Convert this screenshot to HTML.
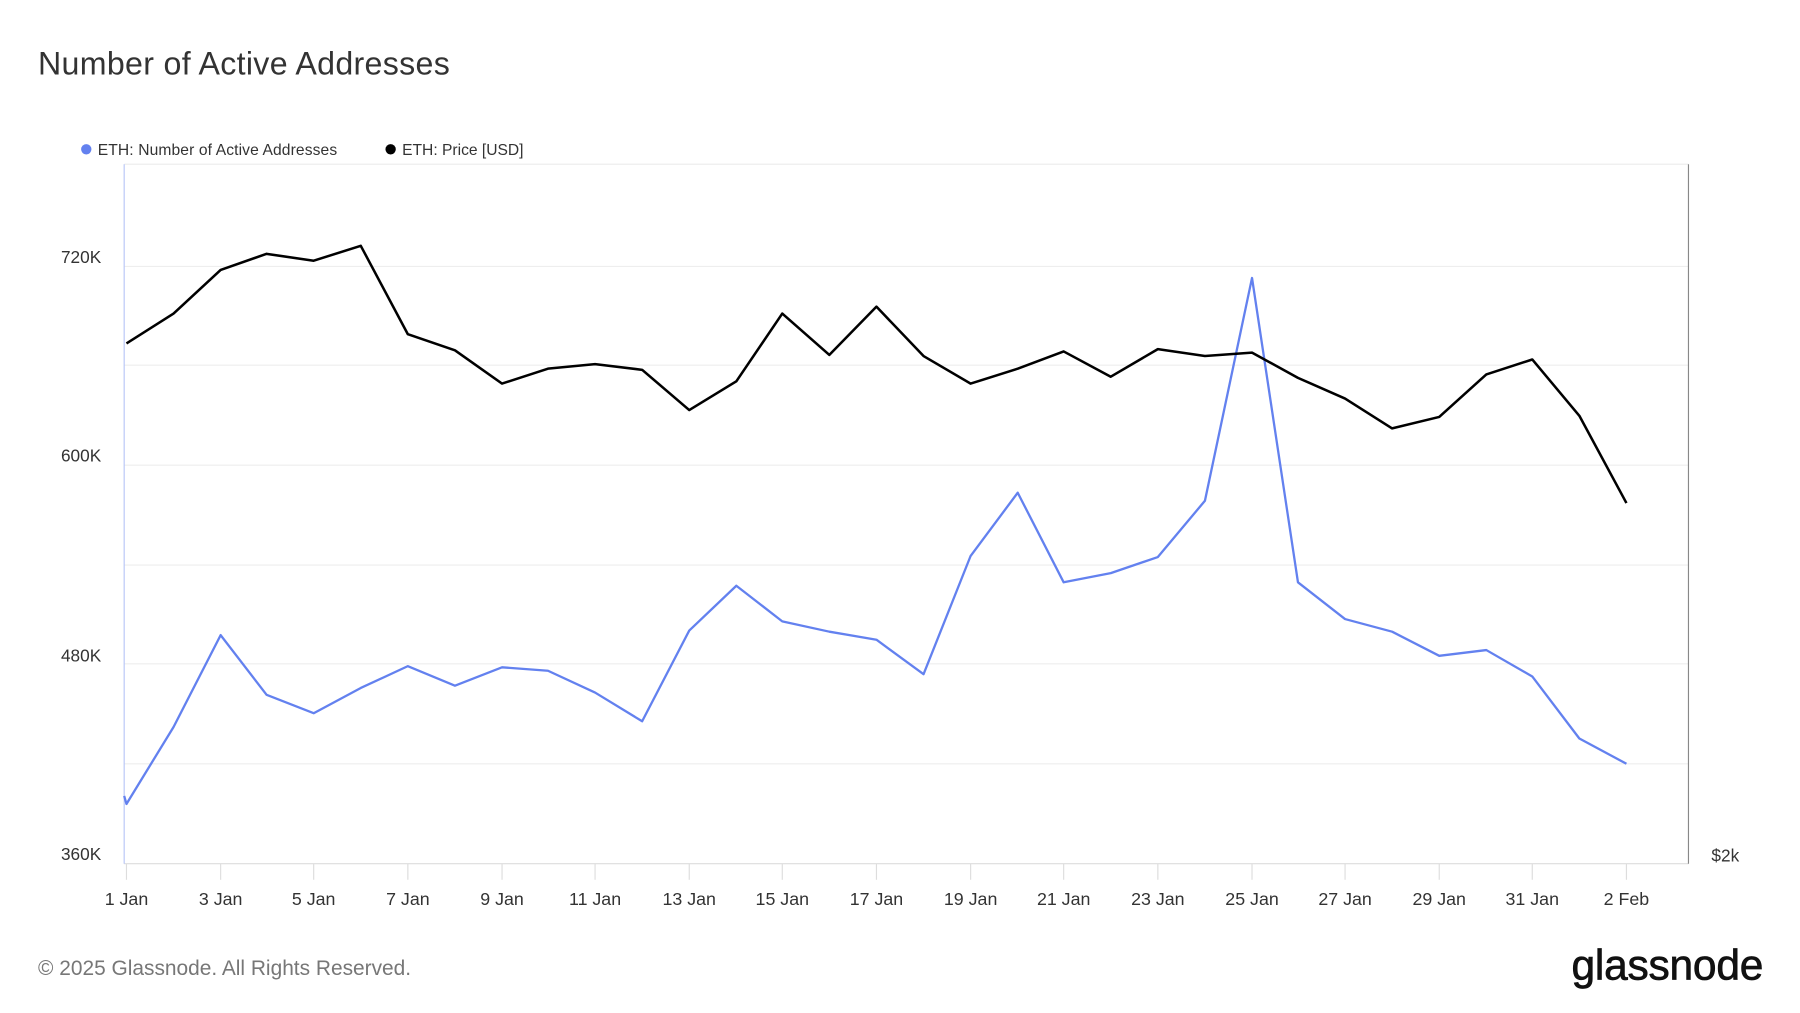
<!DOCTYPE html>
<html><head><style>html,body{margin:0;padding:0;background:#fff;}svg{display:block}</style></head>
<body>
<svg width="1800" height="1013" viewBox="0 0 1567 882" xmlns="http://www.w3.org/2000/svg" font-family="Liberation Sans, sans-serif">
<rect width="1567" height="882" fill="#fff"/>
<text x="33" y="65" font-size="28" fill="#333" letter-spacing="0.28">Number of Active Addresses</text>
<circle cx="75" cy="130" r="4.5" fill="#6381ef"/>
<text x="85" y="135" font-size="13.6" fill="#333" letter-spacing="0.1">ETH: Number of Active Addresses</text>
<circle cx="340" cy="130" r="4.5" fill="#000"/>
<text x="350" y="135" font-size="13.6" fill="#333" letter-spacing="0">ETH: Price [USD]</text>
<g stroke="#eee" stroke-width="1">
<line x1="108" y1="143" x2="1470" y2="143"/>
<line x1="108" y1="232" x2="1470" y2="232"/>
<line x1="108" y1="318" x2="1470" y2="318"/>
<line x1="108" y1="405" x2="1470" y2="405"/>
<line x1="108" y1="492" x2="1470" y2="492"/>
<line x1="108" y1="578" x2="1470" y2="578"/>
<line x1="108" y1="665" x2="1470" y2="665"/>
</g>
<line x1="108" y1="752" x2="1470" y2="752" stroke="#ddd"/>
<line x1="108" y1="143" x2="108" y2="752" stroke="#b8c6f7"/>
<line x1="1470" y1="143" x2="1470" y2="752" stroke="#888"/>
<g font-size="15" fill="#333" text-anchor="end">
<text x="88" y="229">720K</text><text x="88" y="402">600K</text><text x="88" y="576">480K</text><text x="88" y="749">360K</text>
</g>
<text x="1490" y="750" font-size="15" fill="#333">$2k</text>
<g stroke="#ddd">
<line x1="110" y1="752" x2="110" y2="766"/><line x1="192" y1="752" x2="192" y2="766"/><line x1="273" y1="752" x2="273" y2="766"/><line x1="355" y1="752" x2="355" y2="766"/><line x1="437" y1="752" x2="437" y2="766"/><line x1="518" y1="752" x2="518" y2="766"/><line x1="600" y1="752" x2="600" y2="766"/><line x1="681" y1="752" x2="681" y2="766"/><line x1="763" y1="752" x2="763" y2="766"/><line x1="845" y1="752" x2="845" y2="766"/><line x1="926" y1="752" x2="926" y2="766"/><line x1="1008" y1="752" x2="1008" y2="766"/><line x1="1090" y1="752" x2="1090" y2="766"/><line x1="1171" y1="752" x2="1171" y2="766"/><line x1="1253" y1="752" x2="1253" y2="766"/><line x1="1334" y1="752" x2="1334" y2="766"/><line x1="1416" y1="752" x2="1416" y2="766"/>
</g>
<g font-size="15.5" fill="#333" text-anchor="middle">
<text x="110" y="788">1 Jan</text><text x="192" y="788">3 Jan</text><text x="273" y="788">5 Jan</text><text x="355" y="788">7 Jan</text><text x="437" y="788">9 Jan</text><text x="518" y="788">11 Jan</text><text x="600" y="788">13 Jan</text><text x="681" y="788">15 Jan</text><text x="763" y="788">17 Jan</text><text x="845" y="788">19 Jan</text><text x="926" y="788">21 Jan</text><text x="1008" y="788">23 Jan</text><text x="1090" y="788">25 Jan</text><text x="1171" y="788">27 Jan</text><text x="1253" y="788">29 Jan</text><text x="1334" y="788">31 Jan</text><text x="1416" y="788">2 Feb</text>
</g>
<polyline fill="none" stroke="#6381ef" stroke-width="2" stroke-linejoin="round" points="108,693 110,700 151,633 192,553 232,605 273,621 314,599 355,580 396,597 437,581 477,584 518,603 559,628 600,549 641,510 681,541 722,550 763,557 804,587 845,484 886,429 926,507 967,499 1008,485 1049,436 1090,242 1130,507 1171,539 1212,550 1253,571 1294,566 1334,589 1375,643 1416,665"/>
<polyline fill="none" stroke="#000" stroke-width="2.2" stroke-linejoin="round" points="110,299 151,273 192,235 232,221 273,227 314,214 355,291 396,305 437,334 477,321 518,317 559,322 600,357 641,332 681,273 722,309 763,267 804,310 845,334 886,321 926,306 967,328 1008,304 1049,310 1090,307 1130,329 1171,347 1212,373 1253,363 1294,326 1334,313 1375,362 1416,438"/>
<text x="33" y="849" font-size="18.2" fill="#777">© 2025 Glassnode. All Rights Reserved.</text>
<text x="1535" y="853" font-size="37" fill="#111" text-anchor="end" letter-spacing="-0.2" stroke="#111" stroke-width="0.6">glassnode</text>
</svg>
</body></html>
